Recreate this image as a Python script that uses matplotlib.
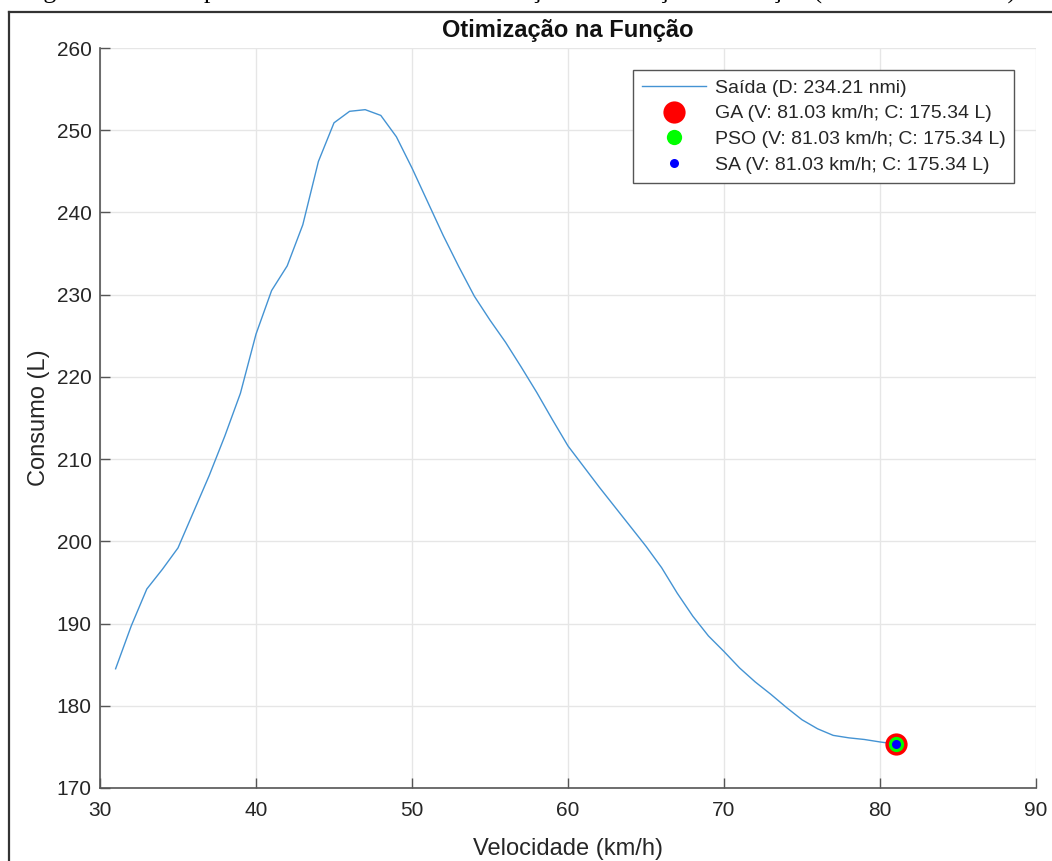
import matplotlib
matplotlib.use("Agg")
import matplotlib.pyplot as plt
from matplotlib.lines import Line2D

plt.rcParams['font.family'] = ['Liberation Sans', 'DejaVu Sans']

# Curve of fuel consumption versus speed
velocidade = [31, 32, 33, 34, 35, 36, 37, 38, 39, 40,
              41, 42, 43, 44, 45, 46, 47, 48, 49, 50,
              51, 52, 53, 54, 55, 56, 57, 58, 59, 60,
              61, 62, 63, 64, 65, 66, 67, 68, 69, 70,
              71, 72, 73, 74, 75, 76, 77, 78, 79, 80, 81.03]
consumo = [184.5, 189.7, 194.2, 196.6, 199.2, 203.6, 208.0, 212.8, 218.0, 225.2,
           230.5, 233.5, 238.5, 246.2, 250.9, 252.3, 252.5, 251.8, 249.2, 245.4,
           241.3, 237.2, 233.4, 229.8, 226.9, 224.2, 221.2, 218.1, 214.8, 211.6,
           209.1, 206.6, 204.2, 201.8, 199.4, 196.8, 193.7, 190.9, 188.5, 186.6,
           184.6, 182.9, 181.4, 179.8, 178.3, 177.2, 176.4, 176.1, 175.9, 175.6, 175.34]

# Optimum found by each algorithm
algoritmos = ['GA', 'PSO', 'SA']
otimo_v = [81.03, 81.03, 81.03]
otimo_c = [175.34, 175.34, 175.34]
cores = ['#ff0000', '#00ff00', '#0000ff']
tamanhos = [16, 11, 6.5]

distancia = 234.21

xticks = [30, 40, 50, 60, 70, 80, 90]
yticks = [170, 180, 190, 200, 210, 220, 230, 240, 250, 260]

W, H = 1052, 861
fig = plt.figure(figsize=(W / 100, H / 100), dpi=100)
ax = fig.add_axes([100 / W, 1 - 788 / H, 936 / W, 740 / H])

dark = '#262626'
ax.plot(velocidade, consumo, color='#4493d3', lw=1.0,
        label=f'Saída (D: {distancia:.2f} nmi)', zorder=3)
for nome, v, c, cor, ms in zip(algoritmos, otimo_v, otimo_c, cores, tamanhos):
    ax.plot([v], [c], 'o', color=cor, markersize=ms, markeredgewidth=0,
            label=f'{nome} (V: {v:.2f} km/h; C: {c:.2f} L)', zorder=4)

ax.set_xlim(30, 90)
ax.set_ylim(170, 260)
ax.set_xticks(xticks)
ax.set_yticks(yticks)
ax.grid(True, color='#e6e6e6', lw=1.0)
ax.set_axisbelow(True)
for s in ['top', 'right']:
    ax.spines[s].set_visible(False)
for s in ['left', 'bottom']:
    ax.spines[s].set_color('#555555')
    ax.spines[s].set_linewidth(1.2)
ax.tick_params(direction='in', length=7, width=1, color='#555555',
               labelsize=15, labelcolor=dark)
ax.tick_params(axis='x', pad=9)
ax.tick_params(axis='y', pad=6)

ax.set_title('Otimização na Função', fontsize=17, fontweight='bold',
             color='#111111', pad=8)
ax.set_xlabel('Velocidade (km/h)', fontsize=17, color=dark, labelpad=13)
ax.set_ylabel('Consumo (L)', fontsize=17, color=dark, labelpad=5)

leg = ax.legend(loc='upper right', bbox_to_anchor=(0.977, 0.970),
                fontsize=14, frameon=True, fancybox=False, framealpha=1,
                edgecolor='#555555', handlelength=3.3, handletextpad=0.45,
                labelspacing=0.42, borderpad=0.45, borderaxespad=0)
leg.get_frame().set_linewidth(1.0)
for t in leg.get_texts():
    t.set_color(dark)

# Page frame and figure caption around the chart
fig.add_artist(Line2D([9 / W, 9 / W], [0, 1 - 12 / H], transform=fig.transFigure,
                      color='#333333', lw=1.6))
fig.add_artist(Line2D([9 / W, 1], [1 - 12 / H, 1 - 12 / H], transform=fig.transFigure,
                      color='#333333', lw=1.6))
fig.text(22 / W, 1 + 1 / H,
         'Figura 4.8 – Comportamento da curva de otimização – Validação na Função (Modelo calculado).',
         family=['Liberation Serif', 'DejaVu Serif'], fontsize=18.5, color='black',
         ha='left', va='baseline')

fig.savefig('out.png', dpi=100)
